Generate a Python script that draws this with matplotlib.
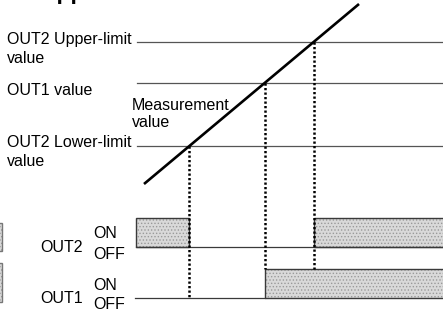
import numpy as np
import matplotlib.pyplot as plt
from matplotlib.patches import Rectangle

plt.rcParams['font.family'] = ['Liberation Sans', 'DejaVu Sans']
plt.rcParams['hatch.linewidth'] = 0.6

# diagram coordinates (x = time, y = value, drawn top-down like the sheet)
level_names = ["upper", "out1", "lower"]
level_y = [42, 83, 146]
level_x0 = 137
t_start, t_end = 136, 444

# measurement value ramp (two end points)
meas_x = [144, 359]
meas_y = [184, 4]

# output rows: top of ON box / OFF line
out2_on_y, out2_off_y = 218, 247
out1_on_y, out1_off_y = 269, 298

fs = 11.5
line_grey = '#555555'
edge = '#3a3a3a'


def on_box(x, y, w, h, edgecolor=edge):
    # stippled fill, then the outline on top
    ax.add_patch(Rectangle((x, y), w, h, facecolor='#d9d9d9', edgecolor='#9a9a9a',
                           lw=0, hatch='.....'))
    ax.add_patch(Rectangle((x, y), w, h, facecolor='none', edgecolor=edgecolor, lw=1.0))


fig = plt.figure(figsize=(4.43, 3.11), dpi=100)
ax = fig.add_axes([0, 0, 1, 1])
ax.set_xlim(0, 443)
ax.set_ylim(311, 0)
ax.axis('off')

# level lines
for y in level_y:
    ax.plot([level_x0, t_end], [y, y], color=line_grey, lw=0.9)

# measurement line
ax.plot(meas_x, meas_y, color='black', lw=1.9, solid_capstyle='butt')

# crossing points of ramp with each level
cross = {}
for name, y in zip(level_names, level_y):
    cross[name] = np.interp(y, meas_y[::-1], meas_x[::-1])

x_up, x_o1, x_lo = cross["upper"], cross["out1"], cross["lower"]

# OUT2: ON below lower limit and above upper limit
ax.plot([t_start, t_end], [out2_off_y, out2_off_y], color=edge, lw=0.9)
for xa, xb in [(t_start, x_lo), (x_up, t_end + 2)]:
    on_box(xa, out2_on_y, xb - xa, out2_off_y - out2_on_y)

# OUT1: ON above OUT1 value
ax.plot([t_start - 1, x_o1], [out1_off_y, out1_off_y], color=edge, lw=0.9)
on_box(x_o1, out1_on_y, t_end + 2 - x_o1, out1_off_y - out1_on_y)

# partial boxes at left edge
for ya, yb in [(223, 251), (263, 302)]:
    on_box(-6, ya, 8.5, yb - ya, edgecolor='#777777')

# dotted drop lines
dot = dict(color='black', lw=1.8, linestyle=(0, (0.9, 0.9)))
ax.plot([x_lo, x_lo], [level_y[2], out1_off_y], **dot)
ax.plot([x_o1, x_o1], [level_y[1], out1_on_y], **dot)
ax.plot([x_up, x_up], [level_y[0], out1_on_y], **dot)

# labels
txt = dict(fontsize=fs, va='baseline', ha='left', color='black')
ax.text(7, 44, "OUT2 Upper-limit", **txt)
ax.text(7, 63, "value", **txt)
ax.text(7, 95, "OUT1 value", **txt)
ax.text(132, 110, "Measurement", **txt)
ax.text(132, 127, "value", **txt)
ax.text(7, 147, "OUT2 Lower-limit", **txt)
ax.text(7, 166, "value", **txt)

ax.text(40, 252, "OUT2", **txt)
ax.text(93, 238, "ON", **txt)
ax.text(93, 259, "OFF", **txt)
ax.text(40, 303, "OUT1", **txt)
ax.text(93, 290, "ON", **txt)
ax.text(93, 309, "OFF", **txt)

# cut-off heading above the figure
ax.text(41, -1, "Upper", fontsize=16.5, fontweight='bold', va='baseline',
        ha='left', clip_on=False)

fig.savefig("out.png", dpi=100)
